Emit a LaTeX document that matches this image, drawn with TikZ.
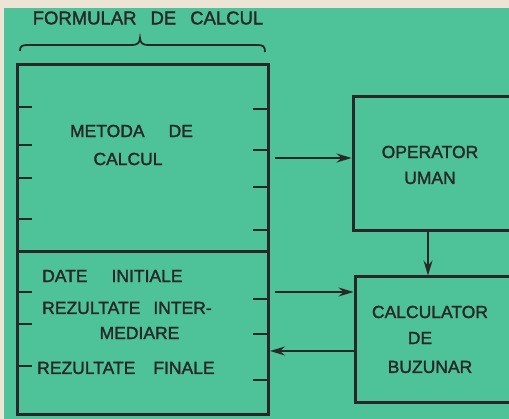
\documentclass[tikz,border=0pt]{standalone}
\usepackage{fontspec}
\setmainfont{Liberation Sans}[FakeBold=1.6]
\usetikzlibrary{arrows.meta}
\definecolor{bggreen}{RGB}{78,194,152}
\definecolor{paper}{RGB}{236,228,212}
\definecolor{ink}{RGB}{40,40,40}
\newcommand{\wsp}{\hspace{14pt}}
\begin{document}
\begin{tikzpicture}[x=1pt,y=-1pt,
  box/.style={draw=ink,line width=3pt,inner sep=0pt},
  tick/.style={draw=ink,line width=2.2pt},
  arr/.style={draw=ink,line width=2pt,-{Stealth[length=15pt,width=9pt,inset=5pt]}},
  lbl/.style={text=ink,inner sep=0pt,font=\fontsize{17.5}{20}\selectfont},
  hdr/.style={text=ink,inner sep=0pt,font=\fontsize{18.5}{22}\selectfont}]
\useasboundingbox (0,0) rectangle (509,419);
\fill[paper] (0,0) rectangle (509,419);
\fill[bggreen] (4,8) rectangle (509,419);
% header
\node[hdr] (title) at (148,18) {FORMULAR\wsp DE\wsp CALCUL};
\draw[ink,line width=1.8pt] (20,51) .. controls (20,46) and (22,45) .. (28,45) -- (132,45)
  .. controls (137,45) and (140,43) .. (140,38) .. controls (140,43) and (143,45) .. (148,45)
  -- (257,45) .. controls (263,45) and (265,46) .. (265,52);
% left boxes
\node[box,minimum width=251pt,minimum height=187pt] (metoda) at (142.5,158.5) {};
\node[box,minimum width=251pt,minimum height=163pt] (date) at (142.5,333.5) {};
% ticks
\foreach \y in {107,145,178,219,292,324,366} \draw[tick] (17,\y) -- (32,\y);
\foreach \y in {109,150,187,230,299,334,380} \draw[tick] (253,\y) -- (268,\y);
% texts left
\node[lbl] (t1) at (131.5,131) {METODA\hspace{24pt}DE};
\node[lbl] (t2) at (128,159) {CALCUL};
\node[lbl,anchor=west] (t3) at (42,276) {DATE\hspace{24pt}INITIALE};
\node[lbl,anchor=west] (t4) at (42,308) {REZULTATE\hspace{13pt}INTER-};
\node[lbl] (t5) at (139.5,333) {MEDIARE};
\node[lbl,anchor=west] (t6) at (37,368) {REZULTATE\hspace{18pt}FINALE};
% right boxes
\node[box,minimum width=159pt,minimum height=134pt] (operator) at (432.5,164) {};
\node[lbl] (op1) at (430,152) {OPERATOR};
\node[lbl] (op2) at (430,178) {UMAN};
\node[box,minimum width=157pt,minimum height=126pt] (calc) at (433.5,340) {};
\node[lbl] (c1) at (430,312) {CALCULATOR};
\node[lbl] (c2) at (420,338) {DE};
\node[lbl] (c3) at (430,367) {BUZUNAR};
% arrows
\coordinate (a1) at (275,158);
\coordinate (a3) at (275,292);
\coordinate (a4) at (270,351);
\coordinate (dx) at (428,0);
\draw[arr] (a1) -- (operator.west |- a1);
\draw[arr] (operator.south -| dx) -- (calc.north -| dx);
\draw[arr] (a3) -- (calc.west |- a3);
\draw[arr] (calc.west |- a4) -- (a4);
\end{tikzpicture}
\end{document}
